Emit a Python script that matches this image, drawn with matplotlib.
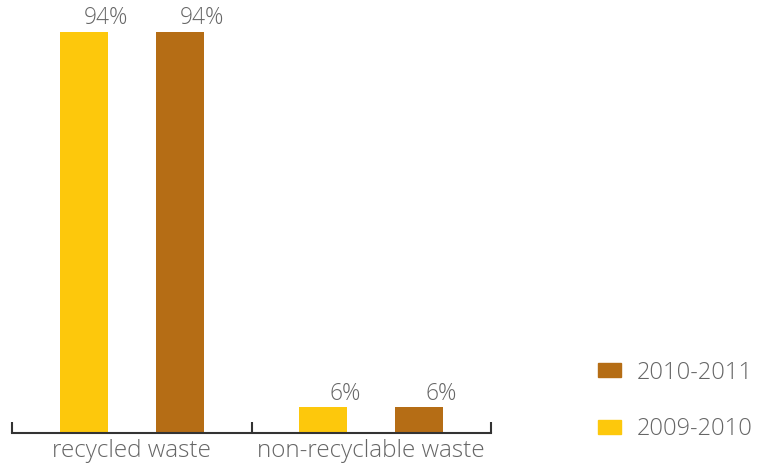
import matplotlib
matplotlib.use("Agg")
import matplotlib.pyplot as plt
from matplotlib.patches import Patch

categories = ["recycled waste", "non-recyclable waste"]
series_names = ["2009-2010", "2010-2011"]
values_2009 = [94, 6]
values_2010 = [94, 6]
colors = {"2009-2010": "#FDC80C", "2010-2011": "#B56D15"}

plt.rcParams['font.family'] = ['Open Sans', 'DejaVu Sans']
text_color = "#666666"

fig = plt.figure(figsize=(7.58, 4.66), dpi=100)
ax = fig.add_axes([12/758, 33/466, (491-12)/758, (466-33-6.4)/466])

xs = [0.5, 1.5]
w = 0.2
off = 0.2
for vals, name, sign in [(values_2009, "2009-2010", -1), (values_2010, "2010-2011", 1)]:
    for x, v in zip(xs, vals):
        ax.bar(x + sign * off, v, width=w, color=colors[name], zorder=2)
        ax.text(x + sign * off + 0.092, v + 0.4, f"{v}%", ha="center", va="bottom",
                fontsize=16.4, color=text_color, fontweight="light")

ax.set_xlim(0, 2)
ax.set_ylim(0, 100)
for s in ["top", "right", "left"]:
    ax.spines[s].set_visible(False)
ax.spines["bottom"].set_color("#333333")
ax.spines["bottom"].set_linewidth(1.5)
ax.set_yticks([])
ax.set_xticks([0, 1, 2])
ax.set_xticklabels([])
ax.tick_params(axis="x", which="major", direction="in", length=8, width=1.5, color="#333333")
ax.set_xticks(xs, minor=True)
ax.set_xticklabels(categories, minor=True, fontsize=17.5, color=text_color, fontweight="light")
ax.tick_params(axis="x", which="minor", length=0, pad=4)

handles = [Patch(color=colors["2010-2011"], label="2010-2011"),
           Patch(color=colors["2009-2010"], label="2009-2010")]
fig.legend(handles=handles, loc="center left", bbox_to_anchor=(598/758, 1 - 401/466),
           frameon=False, labelcolor=text_color, handlelength=0.97,
           handleheight=0.55, labelspacing=1.38, handletextpad=0.68, borderpad=0,
           borderaxespad=0, prop={'weight': 'light', 'size': 17})

fig.savefig("out.png", dpi=100)
